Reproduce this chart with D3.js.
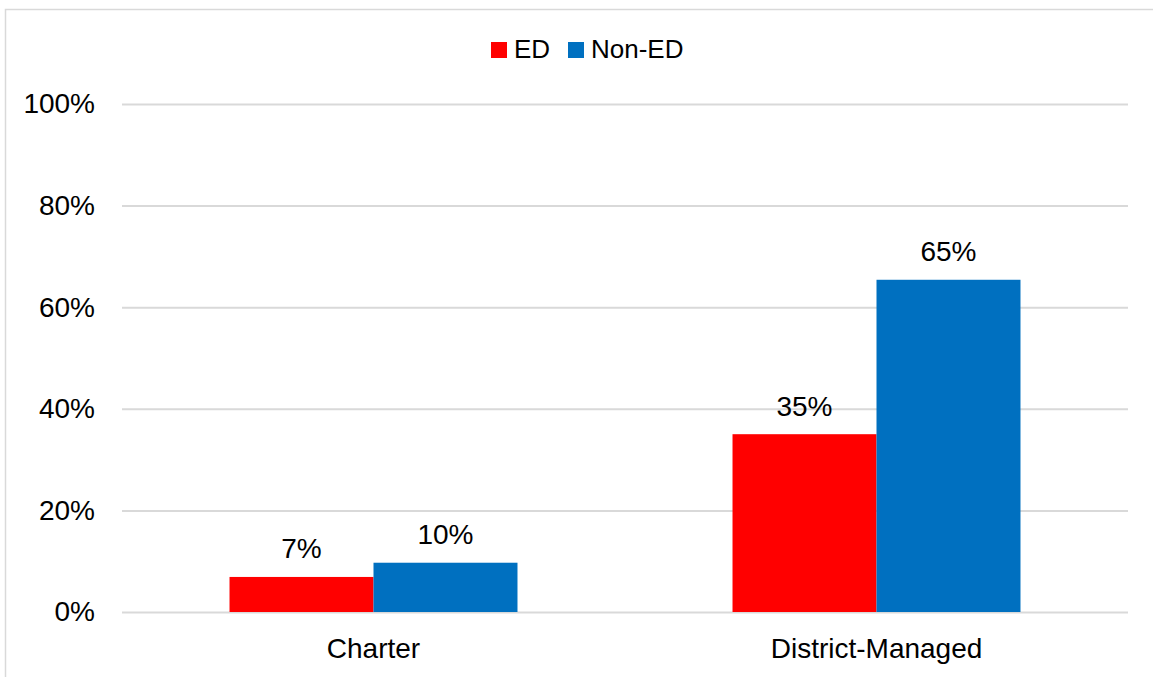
<!DOCTYPE html>
<html>
<head>
<meta charset="utf-8">
<script src="https://cdn.jsdelivr.net/npm/d3@7/dist/d3.min.js"></script>
<style>
  html, body { margin: 0; padding: 0; background: #fff; }
  svg { display: block; }
  text { font-family: "Liberation Sans", Arial, sans-serif; fill: #000; }
</style>
</head>
<body>
<svg id="chart" width="1153" height="677"></svg>
<script>
// School type categories and the share of students in each group
const categories = ["Charter", "District-Managed"];
const seriesNames = ["ED", "Non-ED"];
const edValues = [0.069, 0.35];
const nonEdValues = [0.097, 0.654];
const seriesColors = ["#FF0000", "#0070C0"];
const yTicks = [0, 0.2, 0.4, 0.6, 0.8, 1.0];

const svg = d3.select("#chart");
const W = 1153, H = 677;
const margin = { left: 122, right: 25, top: 104, bottom: 65 };
const plotW = W - margin.left - margin.right;
const plotH = H - margin.top - margin.bottom;
const labelFont = "28px";

// chart frame
svg.append("rect")
  .attr("x", 5.5).attr("y", 9.5)
  .attr("width", W + 20).attr("height", H + 20)
  .attr("fill", "none").attr("stroke", "#d9d9d9").attr("stroke-width", 1.5);

const g = svg.append("g").attr("transform", `translate(${margin.left},${margin.top})`);

const x0 = d3.scaleBand().domain(categories).range([0, plotW])
  .paddingInner(0.4275).paddingOuter(0.4275 / 2);
const x1 = d3.scaleBand().domain(seriesNames).range([0, x0.bandwidth()]);
const y = d3.scaleLinear().domain([0, 1]).range([plotH, 0]);

// gridlines and y tick labels
const yAxis = d3.axisLeft(y).tickValues(yTicks).tickFormat(d3.format(".0%"))
  .tickSize(-plotW).tickPadding(27);
const ya = g.append("g").call(yAxis);
ya.select(".domain").remove();
ya.selectAll(".tick line").attr("stroke", "#d9d9d9").attr("stroke-width", 2);
ya.selectAll(".tick text")
  .style("font-family", "'Liberation Sans', Arial, sans-serif")
  .style("font-size", labelFont).attr("fill", "#000");

// category labels
const xAxis = d3.axisBottom(x0).tickSize(0).tickPadding(26);
const xa = g.append("g").attr("transform", `translate(0,${plotH})`).call(xAxis);
xa.select(".domain").remove();
xa.selectAll(".tick text")
  .style("font-family", "'Liberation Sans', Arial, sans-serif")
  .style("font-size", labelFont).attr("fill", "#000");

const rows = categories.map((c, i) => ({
  category: c,
  values: [
    { series: seriesNames[0], value: edValues[i] },
    { series: seriesNames[1], value: nonEdValues[i] }
  ]
}));
const color = d3.scaleOrdinal().domain(seriesNames).range(seriesColors);
const fmt = d3.format(".0%");

const groups = g.selectAll(".grp").data(rows).join("g")
  .attr("class", "grp")
  .attr("transform", d => `translate(${x0(d.category)},0)`);

groups.selectAll("rect").data(d => d.values).join("rect")
  .attr("x", d => x1(d.series))
  .attr("y", d => y(d.value))
  .attr("width", x1.bandwidth())
  .attr("height", d => plotH - y(d.value))
  .attr("fill", d => color(d.series));

groups.selectAll("text.lbl").data(d => d.values).join("text")
  .attr("class", "lbl")
  .attr("x", d => x1(d.series) + x1.bandwidth() / 2)
  .attr("y", d => y(d.value) - 18.5)
  .attr("text-anchor", "middle")
  .style("font-size", labelFont)
  .text(d => fmt(d.value));

// legend
const legend = svg.append("g").attr("transform", "translate(491,42)");
const legendX = [0, 77];
seriesNames.forEach((s, i) => {
  const lg = legend.append("g").attr("transform", `translate(${legendX[i]},0)`);
  lg.append("rect").attr("width", 16).attr("height", 16).attr("fill", color(s));
  lg.append("text").attr("x", 23).attr("y", 15.5)
    .style("font-size", "26px").text(s);
});
</script>
</body>
</html>
